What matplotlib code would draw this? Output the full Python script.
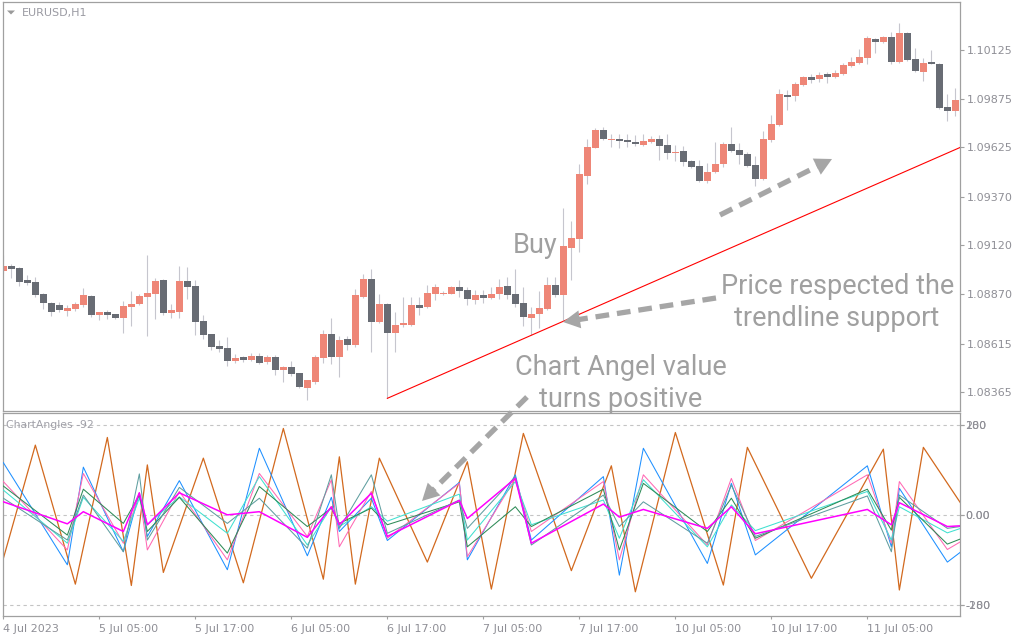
import numpy as np
import matplotlib
matplotlib.use("Agg")
import matplotlib.pyplot as plt
from matplotlib.lines import Line2D
from matplotlib.patches import Polygon

# ---------------- data ----------------
bar_open = [1.08990, 1.09014, 1.09004, 1.08942, 1.08932, 1.08870, 1.08824, 1.08814, 1.08785, 1.08795,
            1.08816, 1.08860, 1.08764, 1.08778, 1.08768, 1.08749, 1.08805, 1.08821, 1.08857, 1.08872,
            1.08942, 1.08774, 1.08780, 1.08937, 1.08912, 1.08732, 1.08665, 1.08603, 1.08593, 1.08528,
            1.08547, 1.08533, 1.08552, 1.08522, 1.08547, 1.08481, 1.08495, 1.08464, 1.08389, 1.08420,
            1.08543, 1.08665, 1.08548, 1.08639, 1.08610, 1.08857, 1.08948, 1.08728, 1.08819, 1.08672,
            1.08713, 1.08713, 1.08814, 1.08805, 1.08872, 1.08870, 1.08872, 1.08906, 1.08891, 1.08841,
            1.08865, 1.08852, 1.08872, 1.08912, 1.08872, 1.08824, 1.08749, 1.08769, 1.08795, 1.08917,
            1.08865, 1.09109, 1.09155, 1.09479, 1.09623, 1.09714, 1.09662, 1.09667, 1.09662, 1.09652,
            1.09638, 1.09652, 1.09667, 1.09637, 1.09595, 1.09606, 1.09554, 1.09529, 1.09451, 1.09498,
            1.09539, 1.09642, 1.09611, 1.09590, 1.09534, 1.09462, 1.09662, 1.09739, 1.09894, 1.09887,
            1.09945, 1.09986, 1.09976, 1.10002, 1.09986, 1.10002, 1.10043, 1.10058, 1.10084, 1.10182,
            1.10166, 1.10192, 1.10063, 1.10212, 1.10079, 1.10012, 1.10060, 1.10055, 1.09832, 1.09813]
bar_high = [1.09071, 1.09025, 1.09011, 1.08968, 1.08958, 1.08877, 1.08829, 1.08829, 1.08814, 1.08829,
            1.08901, 1.08863, 1.08778, 1.08788, 1.08770, 1.08834, 1.08886, 1.08870, 1.09071, 1.08953,
            1.08945, 1.08819, 1.09014, 1.09009, 1.08942, 1.08764, 1.08667, 1.08634, 1.08651, 1.08562,
            1.08552, 1.08567, 1.08567, 1.08557, 1.08557, 1.08502, 1.08526, 1.08466, 1.08430, 1.08557,
            1.08685, 1.08749, 1.08654, 1.08655, 1.08894, 1.08973, 1.08999, 1.08870, 1.08823, 1.08778,
            1.08857, 1.08853, 1.08853, 1.08917, 1.08922, 1.08884, 1.08912, 1.08942, 1.08906, 1.08891,
            1.08891, 1.08906, 1.08948, 1.08958, 1.08999, 1.08906, 1.08805, 1.08886, 1.08958, 1.08958,
            1.09311, 1.09246, 1.09539, 1.09667, 1.09724, 1.09731, 1.09693, 1.09693, 1.09693, 1.09688,
            1.09693, 1.09683, 1.09688, 1.09693, 1.09637, 1.09631, 1.09559, 1.09559, 1.09544, 1.09652,
            1.09652, 1.09729, 1.09647, 1.09601, 1.09580, 1.09709, 1.09791, 1.09925, 1.09919, 1.09960,
            1.09991, 1.10002, 1.10012, 1.10012, 1.10022, 1.10058, 1.10089, 1.10130, 1.10197, 1.10187,
            1.10197, 1.10218, 1.10264, 1.10218, 1.10135, 1.10084, 1.10125, 1.10058, 1.09899, 1.09930]
bar_low = [1.08977, 1.08954, 1.08913, 1.08917, 1.08857, 1.08795, 1.08759, 1.08780, 1.08759, 1.08785,
           1.08805, 1.08754, 1.08738, 1.08744, 1.08744, 1.08672, 1.08708, 1.08814, 1.08656, 1.08744,
           1.08764, 1.08747, 1.08749, 1.08846, 1.08661, 1.08641, 1.08584, 1.08574, 1.08502, 1.08517,
           1.08522, 1.08528, 1.08511, 1.08512, 1.08456, 1.08420, 1.08451, 1.08389, 1.08327, 1.08409,
           1.08516, 1.08511, 1.08445, 1.08583, 1.08600, 1.08848, 1.08574, 1.08720, 1.08334, 1.08574,
           1.08699, 1.08706, 1.08762, 1.08797, 1.08840, 1.08867, 1.08869, 1.08857, 1.08816, 1.08821,
           1.08826, 1.08846, 1.08846, 1.08846, 1.08805, 1.08708, 1.08661, 1.08694, 1.08788, 1.08857,
           1.08737, 1.08942, 1.09088, 1.09436, 1.09620, 1.09662, 1.09626, 1.09621, 1.09626, 1.09631,
           1.09631, 1.09647, 1.09559, 1.09565, 1.09554, 1.09529, 1.09518, 1.09446, 1.09441, 1.09494,
           1.09522, 1.09602, 1.09539, 1.09525, 1.09426, 1.09457, 1.09652, 1.09734, 1.09817, 1.09863,
           1.09940, 1.09955, 1.09960, 1.09955, 1.09981, 1.09998, 1.10039, 1.10053, 1.10053, 1.10110,
           1.10163, 1.10053, 1.10058, 1.10068, 1.10014, 1.09966, 1.10051, 1.09823, 1.09762, 1.09786]
bar_close = [1.09014, 1.09001, 1.08934, 1.08929, 1.08867, 1.08826, 1.08780, 1.08790, 1.08800, 1.08819,
             1.08865, 1.08764, 1.08778, 1.08764, 1.08749, 1.08809, 1.08819, 1.08860, 1.08876, 1.08937,
             1.08774, 1.08788, 1.08937, 1.08908, 1.08728, 1.08661, 1.08600, 1.08589, 1.08528, 1.08541,
             1.08533, 1.08552, 1.08517, 1.08547, 1.08481, 1.08495, 1.08461, 1.08394, 1.08428, 1.08547,
             1.08665, 1.08548, 1.08634, 1.08610, 1.08865, 1.08948, 1.08728, 1.08819, 1.08672, 1.08711,
             1.08723, 1.08814, 1.08800, 1.08876, 1.08906, 1.08877, 1.08906, 1.08886, 1.08846, 1.08865,
             1.08852, 1.08872, 1.08906, 1.08867, 1.08821, 1.08754, 1.08768, 1.08798, 1.08917, 1.08867,
             1.09117, 1.09158, 1.09487, 1.09626, 1.09714, 1.09669, 1.09667, 1.09657, 1.09652, 1.09643,
             1.09657, 1.09667, 1.09631, 1.09595, 1.09601, 1.09549, 1.09523, 1.09451, 1.09498, 1.09539,
             1.09642, 1.09606, 1.09587, 1.09529, 1.09463, 1.09667, 1.09745, 1.09899, 1.09883, 1.09950,
             1.09986, 1.09971, 1.09997, 1.09988, 1.10007, 1.10048, 1.10063, 1.10089, 1.10187, 1.10168,
             1.10192, 1.10063, 1.10212, 1.10074, 1.10017, 1.10058, 1.10055, 1.09827, 1.09813, 1.09868]

price_ticks = [1.10125, 1.09875, 1.09625, 1.09370, 1.09120, 1.08870, 1.08615, 1.08365]
price_tick_labels = ["1.10125", "1.09875", "1.09625", "1.09370", "1.09120", "1.08870", "1.08615", "1.08365"]

time_tick_bars = [0, 12, 24, 36, 48, 60, 72, 84, 96, 108]
time_tick_labels = ["4 Jul 2023", "5 Jul 05:00", "5 Jul 17:00", "6 Jul 05:00", "6 Jul 17:00",
                    "7 Jul 05:00", "7 Jul 17:00", "10 Jul 05:00", "10 Jul 17:00", "11 Jul 05:00"]

trend_bars = [48, 119.6]
trend_prices = [1.08334, 1.09624]

# ChartAngles indicator
angle_ticks = [200, 0, -200]
angle_tick_labels = ["200", "0.00", "-200"]
angle_ticks2 = [180, 0, -180]
angle_tick_labels2 = ["180", "0.00", "-180"]

zig_bars = [0, 4, 9, 13, 16, 18, 20, 25, 30, 35, 40, 42, 44, 47, 53, 58, 61, 65, 71, 76,
            79, 84, 90, 93, 101, 110, 112, 115, 120]
zig_values = [-96, 156, -153, 173, -156, 112, -127, 127, -150, 193, -142, 130, -153, 127, -104, 119,
              -164, 182, -123, 110, -170, 184, -155, 151, -140, 147, -166, 151, 18]

angle_bars = [0, 8, 10, 15, 17, 18, 22, 28, 32, 38, 41, 42, 46, 48, 57, 58, 64, 66, 75, 77,
              80, 88, 91, 94, 108, 111, 112, 118, 120]
angle_blue = [117, -110, 107, -81, 49, -47, 77, -121, 149, -90, 40, -36, 38, -56, 73, -99, 90, -55,
              86, -133, 149, -107, 71, -88, 110, -70, 60, -104, -77]
angle_pink = [75, -77, 93, -62, 50, -77, 53, -99, 93, -47, 79, -70, 53, -51, 71, -92, 82, -36,
              75, -99, 90, -66, 82, -56, 90, -62, 75, -76, -55]
angle_turq = [56, -62, 40, -58, 38, -21, 41, -40, 86, -66, 19, -25, 19, -13, 47, -55, 75, -21,
              34, -51, 79, -70, 23, -34, 53, -55, 19, -39, -27]
angle_green = [65, -44, 58, -18, 45, -36, 40, -84, 64, -25, 16, -18, 16, -21, 30, -70, 19, -25,
               58, -77, 71, -36, 38, -51, 58, -33, 40, -64, -50]
angle_cadet = [38, -55, 45, -81, 92, -55, 62, -18, 38, -73, 90, -29, 90, -40, 34, -29, 86, -66,
               45, -25, 30, -62, 67, -47, 43, -81, 45, -29, -24]
angle_magenta = [30, -19, 8, -36, 50, -21, 50, 1, 8, -49, 19, -21, 49, -47, 33, -7, 82, -62,
                 25, -4, 13, -29, 19, -41, 13, -21, 28, -25, -23]

# ---------------- style ----------------
BULL = "#EE8677"
BEAR = "#686C74"
WICK = "#C6C6CE"
FRAME = "#A0A0A0"
LABEL = "#8F8F96"
NOTE = "#A0A0A0"

W, H = 1024, 640
fig = plt.figure(figsize=(W / 100, H / 100), dpi=100)
fig.patch.set_facecolor("white")


def box(x0, y0, x1, y1):
    return [x0 / W, 1 - y1 / H, (x1 - x0) / W, (y1 - y0) / H]


def fp(x, y):
    return (x / W, 1 - y / H)


ax = fig.add_axes(box(2.7, 2.3, 960, 411.3))
ax2 = fig.add_axes(box(2.7, 413.3, 960, 616))
ax3 = ax2.twinx()

xlim = (-0.08, 119.58)
for a in (ax, ax2):
    a.set_xlim(*xlim)
    a.set_facecolor("white")
    for s in a.spines.values():
        s.set_color(FRAME)
        s.set_linewidth(0.9)

# ---------------- candles ----------------
o = np.array(bar_open)
hh = np.array(bar_high)
ll = np.array(bar_low)
c = np.array(bar_close)
xi = np.arange(len(o))
up = c >= o
bottom = np.minimum(o, c)
height = np.maximum(np.abs(c - o), 0.00007)

ax.vlines(xi, ll, hh, color=WICK, lw=0.8, zorder=1)
ax.bar(xi[up], height[up], bottom=bottom[up], width=0.85, color=BULL, linewidth=0, zorder=2)
ax.bar(xi[~up], height[~up], bottom=bottom[~up], width=0.85, color=BEAR, linewidth=0, zorder=2)

ax.plot(trend_bars, trend_prices, color="#FF0000", lw=0.8, zorder=3)

ax.set_ylim(1.082673, 1.103703)
ax.yaxis.tick_right()
ax.set_yticks(price_ticks)
ax.set_yticklabels(price_tick_labels)
ax.set_xticks([])
ax.tick_params(axis="y", direction="out", length=3, width=0.8, color=FRAME,
               labelcolor=LABEL, labelsize=8, pad=2)

# ---------------- indicator ----------------
ind_ylim = (-223.8, 226.7)
ax2.set_ylim(*ind_ylim)
for v in angle_ticks:
    ax2.axhline(v, color="#C4C4C4", lw=0.8, ls=(0, (3, 3)), zorder=0)

ax2.plot(zig_bars, zig_values, color="#D2691E", lw=0.9, zorder=2)
ax2.plot(angle_bars, angle_blue, color="#1E90FF", lw=0.75, zorder=3)
ax2.plot(angle_bars, angle_pink, color="#FF69B4", lw=0.75, zorder=3)
ax2.plot(angle_bars, angle_turq, color="#40E0D0", lw=0.75, zorder=3)
ax2.plot(angle_bars, angle_green, color="#2E8B57", lw=0.75, zorder=3)
ax2.plot(angle_bars, angle_cadet, color="#5F9EA0", lw=0.75, zorder=3)
ax2.plot(angle_bars, angle_magenta, color="#FF00FF", lw=1.1, zorder=4)

ax2.yaxis.tick_right()
ax2.yaxis.set_label_position("right")
ax2.set_yticks(angle_ticks)
ax2.set_yticklabels(angle_tick_labels)
ax2.tick_params(axis="y", which="both", left=False, labelleft=False, right=True, labelright=True,
                direction="out", length=3, width=0.8, color=FRAME,
                labelcolor=LABEL, labelsize=8, pad=1)

ax3.set_ylim(ind_ylim[0] * 0.9, ind_ylim[1] * 0.9)
ax3.set_yticks(angle_ticks2)
ax3.set_yticklabels(angle_tick_labels2)
ax3.tick_params(axis="y", direction="out", length=3, width=0.8, color=FRAME,
                labelcolor=LABEL, labelsize=8, pad=1)
for s in ax3.spines.values():
    s.set_visible(False)

ax2.set_xticks(time_tick_bars)
ax2.set_xticklabels(time_tick_labels)
ax2.tick_params(axis="x", direction="out", length=2.5, width=0.8, color=FRAME,
                labelcolor=LABEL, labelsize=8, pad=3)
for lbl in ax2.get_xticklabels():
    lbl.set_horizontalalignment("left")

# ---------------- labels ----------------
fig.add_artist(Polygon([fp(7, 10.5), fp(15, 10.5), fp(11, 14.5)], closed=True,
                       transform=fig.transFigure, color="#9A9A9A", lw=0))
fig.text(*fp(21.5, 12.8), "EURUSD,H1", ha="left", va="center", fontsize=8,
         color="#9A9AA2", family="DejaVu Sans")
fig.text(*fp(6.5, 424.5), "ChartAngles -92", ha="left", va="center", fontsize=7.8,
         color="#A0A0A8", family="DejaVu Sans")

note_kw = dict(fontsize=19.5, color=NOTE, family="Roboto", ha="center", va="baseline")
fig.text(*fp(535, 253), "Buy", **note_kw)
fig.text(*fp(837.5, 293.5), "Price respected the", **note_kw)
fig.text(*fp(836.5, 326.5), "trendline support", **note_kw)
fig.text(*fp(621, 375), "Chart Angel value", **note_kw)
fig.text(*fp(621, 407), "turns positive", **note_kw)


def dashed_arrow(x0, y0, x1, y1, color="#A6A6A6"):
    d = np.array([x1 - x0, y1 - y0], dtype=float)
    d /= np.hypot(*d)
    n = np.array([-d[1], d[0]])
    L, Wd = 17.0, 9.0
    tip = np.array([x1, y1], dtype=float)
    base = tip - L * d
    shaft_end = base + 2 * d
    fig.add_artist(Line2D([x0 / W, shaft_end[0] / W], [1 - y0 / H, 1 - shaft_end[1] / H],
                          transform=fig.transFigure, color=color, lw=3.8,
                          dashes=(2.6, 1.5), dash_capstyle="butt", zorder=10))
    pts = [tip, base + Wd * n, base - Wd * n]
    fig.add_artist(Polygon([fp(p[0], p[1]) for p in pts], closed=True,
                           transform=fig.transFigure, color=color, lw=0, zorder=10))


dashed_arrow(720, 215, 832, 159)
dashed_arrow(716, 298, 563, 322)
dashed_arrow(527, 397, 422, 501)

fig.savefig("out.png", dpi=100, facecolor="white")
